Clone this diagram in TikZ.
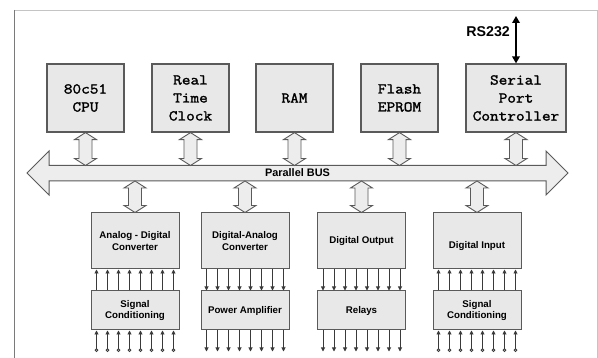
\documentclass[tikz,border=0pt]{standalone}
\usepackage{fontspec}
\setmainfont{Liberation Sans}
\newfontfamily\monofnt{Latin Modern Mono}[FakeStretch=1.12, FakeBold=1.8]
\usetikzlibrary{arrows.meta,calc}
\definecolor{boxfill}{HTML}{E8E8E8}
\definecolor{boxline}{HTML}{5A5A5A}
\definecolor{busfill}{HTML}{EDEDED}
\definecolor{sigcol}{HTML}{3A3A3A}
\definecolor{framedark}{HTML}{7A7A7A}
\definecolor{framelight}{HTML}{C4C4C4}
\tikzset{
  topbox/.style={draw=boxline, fill=boxfill, line width=1.2pt, minimum width=77pt, minimum height=68pt, inner sep=0pt, align=center, font=\monofnt\fontsize{15}{18}\selectfont},
  botbox/.style={draw=boxline, fill=boxfill, line width=1pt, minimum width=88pt, minimum height=56pt, inner sep=0pt, align=center, font=\bfseries\fontsize{9.7}{11.5}\selectfont},
  lowbox/.style={botbox, minimum height=39pt},
  bottxt/.style={inner sep=0pt, font=\bfseries\fontsize{9.7}{11.5}\selectfont},
  hollow/.style={draw=boxline, fill=busfill, line width=0.9pt, line join=miter},
  sig/.style={draw=sigcol, line width=0.9pt, -{Triangle[length=4pt,width=4pt]}},
  sigin/.style={draw=sigcol, line width=0.9pt, {Circle[open,length=3.6pt,width=3.6pt]}-{Triangle[length=4pt,width=4pt]}},
  lbl/.style={font=\bfseries\fontsize{14.2}{16}\selectfont, inner sep=0pt}
}
\newcommand\dblarrow[2]{%
  \path[hollow] (#1) -- ($(#1)+(11,7)$) -- ($(#1)+(6.5,7)$) -- ($(#2)+(6.5,-7)$) -- ($(#2)+(11,-7)$) -- (#2) -- ($(#2)+(-11,-7)$) -- ($(#2)+(-6.5,-7)$) -- ($(#1)+(-6.5,7)$) -- ($(#1)+(-11,7)$) -- cycle;}
\begin{document}
\begin{tikzpicture}[x=1pt,y=-1pt]
\useasboundingbox (0,0) rectangle (598,358);
\fill[white] (0,0) rectangle (598,358);
% frame
\draw[framelight, line width=0.8pt] (14,10) -- (597,10) -- (597,358);
\draw[framedark, line width=1pt] (14,10) -- (14,358);
% top boxes
\node[topbox] (cpu) at (85.5,98) {80c51\\CPU};
\node[topbox] (rtc) at (190.5,98) {Real\\Time\\Clock};
\node[topbox] (ram) at (294.5,98) {RAM};
\node[topbox] (flash) at (399.5,98) {Flash\\EPROM};
\node[topbox, minimum width=100pt] (spc) at (516,98) {Serial\\Port\\Controller};
% bus
\coordinate (bustop) at (0,165.5);
\coordinate (busbot) at (0,181);
\path[hollow, line width=1pt] (27,173) -- (49,151) -- (49,165.5) -- (546,165.5) -- (546,151) -- (568,173) -- (546,195) -- (546,181) -- (49,181) -- (49,195) -- cycle;
\node[font=\bfseries\fontsize{10.9}{12}\selectfont, inner sep=0pt] (buslabel) at (297.5,173) {Parallel BUS};
% bottom boxes
\node[botbox] (adc) at (135,241) {Analog - Digital\\Converter};
\node[botbox] (dac) at (245,241) {Digital-Analog\\Converter};
\node[botbox] (dout) at (361.5,241) {Digital Output};
\node[botbox] (din) at (477,241) {};
\node[bottxt] (dintext) at (477,246.5) {Digital Input};
\node[lowbox] (sc1) at (135,310.5) {Signal\\Conditioning};
\node[lowbox] (pa) at (245,310.5) {Power Amplifier};
\node[lowbox] (rel) at (361.5,310.5) {Relays};
\node[lowbox] (sc2) at (477,310.5) {Signal\\Conditioning};
% hollow arrows top
\foreach \n in {cpu,rtc,ram,flash,spc}{
  \dblarrow{\n.south}{\n.south |- bustop}
}
% hollow arrows bottom
\foreach \n in {adc,dac,dout,din}{
  \dblarrow{\n.north |- busbot}{\n.north}
}
% signal lines
\foreach \i in {0,...,7}{
  \pgfmathsetmacro{\dx}{-38.5+11*\i}
  \draw[sig] ($(sc1.north)+(\dx,0)$) -- ($(adc.south)+(\dx,0)$);
  \draw[sigin] ($(sc1.south)+(\dx,21.5)$) -- ($(sc1.south)+(\dx,0)$);
  \draw[sig] ($(dac.south)+(\dx,0)$) -- ($(pa.north)+(\dx,0)$);
  \draw[sig] ($(pa.south)+(\dx,0)$) -- ($(pa.south)+(\dx,21)$);
  \draw[sig] ($(dout.south)+(\dx,0)$) -- ($(rel.north)+(\dx,0)$);
  \draw[sig] ($(rel.south)+(\dx,0)$) -- ($(rel.south)+(\dx,21)$);
  \draw[sig] ($(sc2.north)+(\dx,0)$) -- ($(din.south)+(\dx,0)$);
  \draw[sigin] ($(sc2.south)+(\dx,21.5)$) -- ($(sc2.south)+(\dx,0)$);
}
% RS232
\coordinate (rsend) at (516,16);
\draw[black, line width=2pt, {Triangle[length=7pt,width=7.5pt]}-{Triangle[length=7pt,width=7.5pt]}] (rsend) -- (spc.north);
\node[lbl, anchor=east] (rslabel) at (510,32) {RS232};
\end{tikzpicture}
\end{document}
